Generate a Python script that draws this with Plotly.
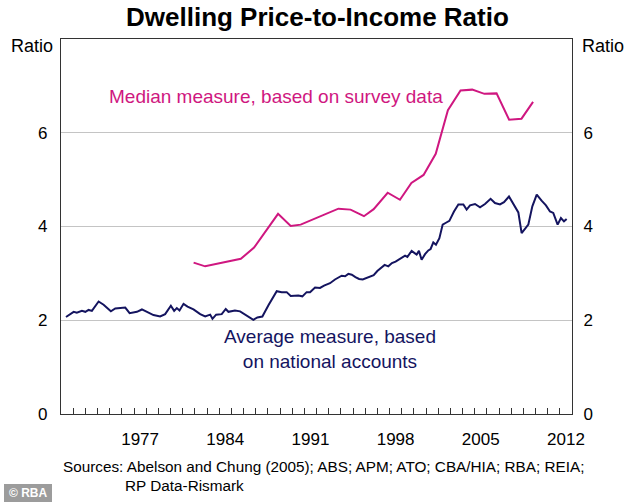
import plotly.graph_objects as go

# ---- data ----
avg_year = [1971.41, 1972.04, 1972.3, 1972.72, 1973.0, 1973.27, 1973.54, 1974.09, 1974.5, 1975.1,
            1975.46, 1976.28, 1976.64, 1977.24, 1977.65, 1978.2, 1978.6, 1979.15, 1979.56, 1980.03,
            1980.3, 1980.52, 1980.74, 1981.07, 1981.4, 1981.89, 1982.44, 1982.85, 1983.26, 1983.45,
            1983.75, 1984.21, 1984.54, 1984.76, 1985.3, 1985.72, 1986.4, 1986.81, 1987.14, 1987.55,
            1988.05, 1988.73, 1989.14, 1989.55, 1989.88, 1990.5, 1990.84, 1991.19, 1991.47, 1991.88,
            1992.29, 1992.62, 1993.11, 1993.52, 1994.07, 1994.35, 1994.62, 1994.9, 1995.2, 1995.5,
            1995.8, 1996.1, 1996.4, 1996.7, 1997.0, 1997.3, 1997.6, 1997.9, 1998.2, 1998.5,
            1998.8, 1999.0, 1999.28, 1999.47, 1999.82, 2000.23, 2000.42, 2000.64, 2000.92, 2001.19,
            2001.38, 2001.6, 2001.82, 2002.1, 2002.37, 2002.64, 2002.92, 2003.3, 2003.66, 2004.07,
            2004.34, 2004.62, 2005.03, 2005.44, 2005.85, 2006.31, 2006.67, 2007.08, 2007.41, 2007.82,
            2008.18, 2008.59, 2008.86, 2009.05, 2009.41, 2009.74, 2010.1, 2010.5, 2010.86, 2011.19,
            2011.46, 2011.82, 2012.09, 2012.34, 2012.56]
avg_value = [2.07, 2.18, 2.16, 2.20, 2.18, 2.22, 2.20, 2.40, 2.33, 2.19,
             2.25, 2.27, 2.15, 2.18, 2.23, 2.16, 2.11, 2.08, 2.13, 2.31,
             2.20, 2.26, 2.21, 2.35, 2.29, 2.23, 2.13, 2.08, 2.12, 2.03,
             2.12, 2.13, 2.24, 2.18, 2.21, 2.19, 2.07, 2.01, 2.06, 2.08,
             2.32, 2.62, 2.60, 2.60, 2.52, 2.53, 2.51, 2.60, 2.60, 2.70,
             2.69, 2.74, 2.79, 2.87, 2.95, 2.94, 2.99, 2.97, 2.92, 2.88,
             2.87, 2.90, 2.93, 2.96, 3.05, 3.12, 3.18, 3.15, 3.22, 3.25,
             3.30, 3.33, 3.38, 3.35, 3.48, 3.40, 3.48, 3.29, 3.41, 3.49,
             3.52, 3.66, 3.61, 3.75, 4.04, 4.08, 4.12, 4.32, 4.47, 4.47,
             4.36, 4.45, 4.48, 4.41, 4.48, 4.59, 4.50, 4.47, 4.52, 4.64,
             4.48, 4.30, 3.86, 3.93, 4.04, 4.43, 4.68, 4.55, 4.45, 4.32,
             4.29, 4.04, 4.18, 4.11, 4.16]

med_year = [1981.9, 1982.85, 1985.78, 1986.87, 1988.84, 1989.88, 1990.7, 1993.8, 1994.8, 1995.9,
            1996.7, 1997.85, 1998.86, 1999.8, 2000.8, 2001.8, 2002.8, 2003.84, 2004.8, 2005.8,
            2006.8, 2007.83, 2008.85, 2009.8]
med_value = [3.23, 3.15, 3.31, 3.55, 4.27, 4.01, 4.04, 4.38, 4.36, 4.22,
             4.37, 4.72, 4.57, 4.93, 5.10, 5.55, 6.48, 6.90, 6.92, 6.83,
             6.84, 6.28, 6.30, 6.66]

year_ticks = list(range(1972, 2013))
label_years = [1977, 1984, 1991, 1998, 2005, 2012]
y_ticks = [0, 2, 4, 6]

# ---- figure ----
W, H = 634, 502
L, R, T, B = 61, 62, 39, 88
pw, ph = W - L - R, H - T - B
FONT = "Liberation Sans, Arial, sans-serif"
NAVY = "#14145f"
PINK = "#cf1780"


def px(xp):
    return (xp - L) / pw


def py(yp):
    return (H - B - yp) / ph


fig = go.Figure()
fig.add_trace(go.Scatter(x=avg_year, y=avg_value, mode="lines",
                         line=dict(color=NAVY, width=2), showlegend=False, hoverinfo="skip"))
fig.add_trace(go.Scatter(x=med_year, y=med_value, mode="lines",
                         line=dict(color=PINK, width=2), showlegend=False, hoverinfo="skip"))
# invisible trace for right axis
fig.add_trace(go.Scatter(x=[1971], y=[0], yaxis="y2", mode="markers",
                         marker=dict(opacity=0), showlegend=False, hoverinfo="skip"))

axis_line = "#333333"
fig.update_layout(
    width=W, height=H,
    margin=dict(l=L, r=R, t=T, b=B, pad=0, autoexpand=False),
    paper_bgcolor="white", plot_bgcolor="white",
    font=dict(family=FONT, color="black", size=17),
    xaxis=dict(range=[1971, 2013], showgrid=False, zeroline=False,
               showline=True, linecolor=axis_line, linewidth=1.3, mirror=True,
               tickvals=[y + 0.5 for y in label_years], ticktext=[str(y) for y in label_years],
               ticks="", ticklabelstandoff=9, tickfont=dict(size=17),
               minor=dict(tickvals=year_ticks, ticks="inside", ticklen=6,
                          tickcolor=axis_line, tickwidth=1, showgrid=False)),
    yaxis=dict(range=[0, 8], tickvals=y_ticks, ticks="", showgrid=True,
               gridcolor="#c4c4c4", gridwidth=1, zeroline=False,
               showline=True, linecolor=axis_line, linewidth=1.3,
               ticklabelstandoff=9, tickfont=dict(size=17)),
    yaxis2=dict(range=[0, 8], tickvals=y_ticks, ticks="", overlaying="y", side="right",
                showgrid=False, zeroline=False, showline=True, linecolor=axis_line, linewidth=1.3,
                ticklabelstandoff=7, tickfont=dict(size=17)),
)

ann = []
ann.append(dict(text="<b>Dwelling Price-to-Income Ratio</b>", x=px(317), y=py(17),
                xref="paper", yref="paper", showarrow=False, font=dict(size=26),
                xanchor="center", yanchor="middle"))
ann.append(dict(text="Ratio", x=px(32), y=py(46), xref="paper", yref="paper", showarrow=False,
                font=dict(size=18), xanchor="center", yanchor="middle"))
ann.append(dict(text="Ratio", x=px(603), y=py(46), xref="paper", yref="paper", showarrow=False,
                font=dict(size=18), xanchor="center", yanchor="middle"))
ann.append(dict(text="Median measure, based on survey data", x=px(276), y=py(97),
                xref="paper", yref="paper", showarrow=False, font=dict(size=19, color=PINK),
                xanchor="center", yanchor="middle"))
ann.append(dict(text="Average measure, based<br>on national accounts", x=px(330), y=py(349),
                xref="paper", yref="paper", showarrow=False, font=dict(size=19, color=NAVY),
                xanchor="center", yanchor="middle", align="center"))
ann.append(dict(text="Sources: Abelson and Chung (2005); ABS; APM; ATO; CBA/HIA; RBA; REIA;",
                x=px(61), y=py(466), xref="paper", yref="paper", showarrow=False,
                font=dict(size=15.3), xanchor="left", yanchor="middle"))
ann.append(dict(text="RP Data-Rismark", x=px(123), y=py(485), xref="paper", yref="paper",
                showarrow=False, font=dict(size=15.3), xanchor="left", yanchor="middle"))
ann.append(dict(text="<b>© RBA</b>", x=px(28), y=py(493), xref="paper", yref="paper",
                showarrow=False, font=dict(size=12, color="white"),
                xanchor="center", yanchor="middle"))
fig.update_layout(annotations=ann)

fig.add_shape(type="rect", xref="paper", yref="paper",
              x0=px(4), x1=px(52), y0=py(484), y1=py(502),
              fillcolor="#9c9c9c", line=dict(width=0), layer="below")

fig.write_html("out.html", config={"displayModeBar": False},
               post_script="document.body.style.margin='0';document.body.style.padding='0';")
